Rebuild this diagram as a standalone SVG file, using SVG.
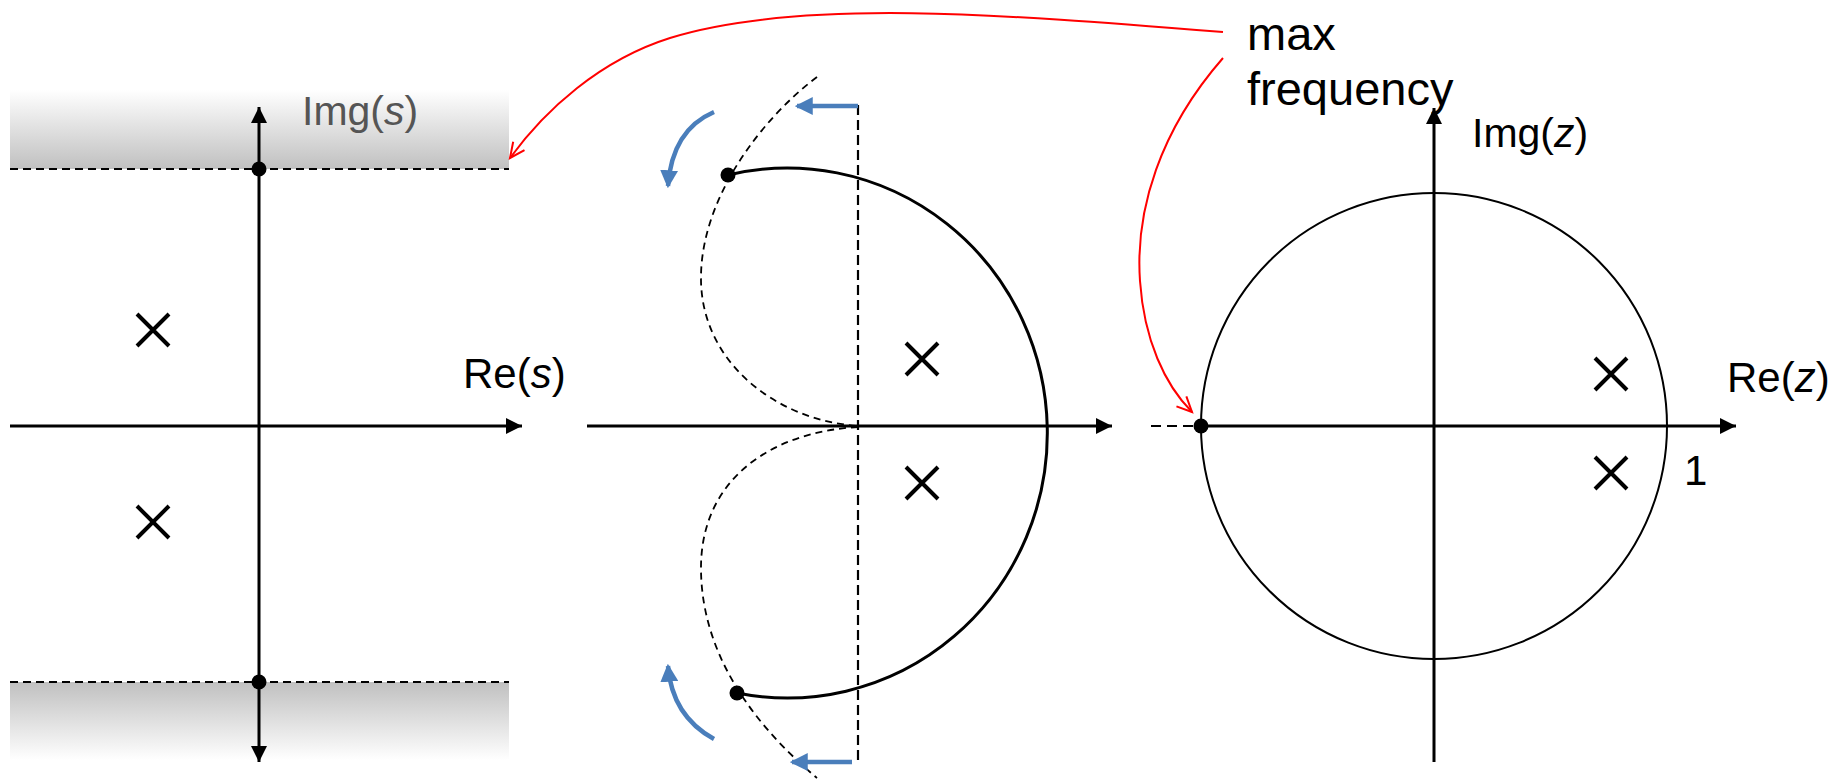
<svg xmlns="http://www.w3.org/2000/svg" width="1833" height="779" viewBox="0 0 1833 779">
<style>
text{font-family:"Liberation Sans",Arial,sans-serif;fill:#000}
.ax{stroke:#000;stroke-width:3;fill:none}
.thin{stroke:#000;stroke-width:2;fill:none}
.dash{stroke:#000;stroke-width:2;stroke-dasharray:8 5;fill:none}
.dashc{stroke:#000;stroke-width:1.8;stroke-dasharray:7 5;fill:none}
.pole{stroke:#000;stroke-width:4;fill:none}
.blue{stroke:#4a7ebb;stroke-width:4.5;fill:none}
.red{stroke:#ff0000;stroke-width:2;fill:none}
</style>
<defs>
<linearGradient id="gTop" x1="0" y1="0" x2="0" y2="1"><stop offset="0" stop-color="#ffffff"/><stop offset="1" stop-color="#c0c0c0"/></linearGradient>
<linearGradient id="gBot" x1="0" y1="0" x2="0" y2="1"><stop offset="0" stop-color="#c0c0c0"/><stop offset="1" stop-color="#ffffff"/></linearGradient>
<marker id="ah" viewBox="0 0 16 16" refX="16" refY="8" markerWidth="16" markerHeight="16" markerUnits="userSpaceOnUse" orient="auto"><path d="M0,0 L16,8 L0,16 z" fill="#000"/></marker>
<marker id="bh" viewBox="0 0 16 16" refX="14" refY="8" markerWidth="18" markerHeight="18" markerUnits="userSpaceOnUse" orient="auto"><path d="M0,0 L16,8 L0,16 z" fill="#4a7ebb"/></marker>
<marker id="rh" viewBox="0 0 20 20" refX="17" refY="10" markerWidth="20" markerHeight="20" markerUnits="userSpaceOnUse" orient="auto" overflow="visible"><path d="M2,3 L17,10 L2,17" fill="none" stroke="#ff0000" stroke-width="2"/></marker>
<g id="x"><path class="pole" d="M-16,-16 L16,16 M-16,16 L16,-16"/></g>
</defs>

<g id="s-plane">
<rect x="10" y="90" width="499" height="79" fill="url(#gTop)"/>
<rect x="10" y="682" width="499" height="78" fill="url(#gBot)"/>
<line class="dash" x1="10" y1="169" x2="509" y2="169"/>
<line class="dash" x1="10" y1="682" x2="509" y2="682"/>
<line class="ax" x1="10" y1="426" x2="522" y2="426" marker-end="url(#ah)"/>
<line class="ax" x1="259" y1="426" x2="259" y2="107" marker-end="url(#ah)"/>
<line class="ax" x1="259" y1="426" x2="259" y2="762" marker-end="url(#ah)"/>
<circle cx="259" cy="169" r="7.5" fill="#000"/>
<circle cx="259" cy="682" r="7.5" fill="#000"/>
<use href="#x" x="153" y="330"/>
<use href="#x" x="153" y="522"/>
<text x="302" y="125" font-size="41" style="fill:#555">Img(<tspan font-style="italic" style="fill:#555">s</tspan>)</text>
<text x="463" y="388" font-size="42">Re(<tspan font-style="italic">s</tspan>)</text>
</g>

<g id="mapping">
<line class="ax" x1="587" y1="426" x2="1112" y2="426" marker-end="url(#ah)"/>
<line x1="858" y1="105" x2="858" y2="762" stroke="#000" stroke-width="2.2" stroke-dasharray="10 5"/>
<path class="dashc" d="M817,77 C760,120 700,200 701,280 C702,362 775,420 858,426"/>
<path class="dashc" d="M858,427 C770,432 700,480 701,570 C702,660 760,730 817,778"/>
<path class="ax" d="M728,175 A260,265 0 1 1 737,693"/>
<circle cx="728" cy="175" r="7.5" fill="#000"/>
<circle cx="737" cy="693" r="7.5" fill="#000"/>
<use href="#x" x="922" y="359"/>
<use href="#x" x="922" y="483"/>
<line class="blue" x1="858" y1="106" x2="797" y2="106" marker-end="url(#bh)"/>
<line class="blue" x1="852" y1="762" x2="792" y2="762" marker-end="url(#bh)"/>
<path class="blue" d="M714,112 Q672,130 668,186" marker-end="url(#bh)"/>
<path class="blue" d="M714,739 Q672,716 668,666" marker-end="url(#bh)"/>
</g>

<g id="z-plane">
<circle class="thin" cx="1434" cy="426" r="233"/>
<line x1="1151" y1="426" x2="1200" y2="426" stroke="#000" stroke-width="2" stroke-dasharray="10 6"/>
<line class="ax" x1="1200" y1="426" x2="1736" y2="426" marker-end="url(#ah)"/>
<line class="ax" x1="1434" y1="762" x2="1434" y2="108" marker-end="url(#ah)"/>
<circle cx="1201" cy="426" r="7.5" fill="#000"/>
<use href="#x" x="1611" y="374"/>
<use href="#x" x="1611" y="473"/>
<text x="1472" y="147" font-size="41">Img(<tspan font-style="italic">z</tspan>)</text>
<text x="1727" y="392" font-size="42">Re(<tspan font-style="italic">z</tspan>)</text>
<text x="1684" y="485" font-size="42">1</text>
</g>

<g id="label">
<text x="1247" y="50" font-size="47">max</text>
<text x="1247" y="105" font-size="47">frequency</text>
</g>

<g id="connectors">
<path class="red" d="M1223,32 C1000,14 800,-2 670,38 C600,60 545,110 510,158" marker-end="url(#rh)"/>
<path class="red" d="M1223,58 C1160,130 1135,210 1140,281 C1144,340 1165,385 1192,412" marker-end="url(#rh)"/>
</g>
</svg>
